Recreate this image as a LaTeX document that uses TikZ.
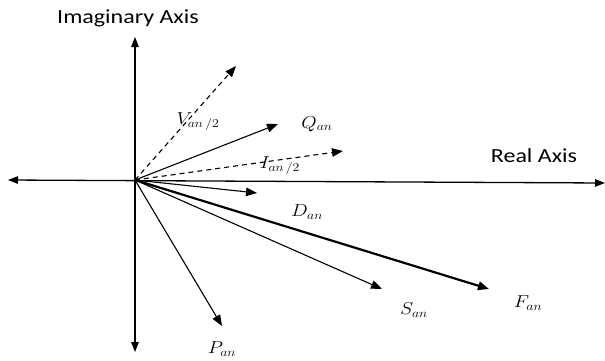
\documentclass[tikz,border=0pt]{standalone}
\usepackage{fontspec}
\usepackage{graphicx}
\setmainfont{Carlito}
\usetikzlibrary{arrows.meta}
\tikzset{
  vec/.style={line width=1.1pt,-{Triangle[length=11pt,width=8.5pt]}},
  axis/.style={line width=1.3pt,{Triangle[length=10pt,width=7.5pt]}-{Triangle[length=10pt,width=7.5pt]}},
  dvec/.style={vec,dash pattern=on 5pt off 4pt},
  axlbl/.style={inner sep=0pt,font=\fontsize{20}{22}\selectfont},
  mlbl/.style={inner sep=0pt,font=\fontsize{18}{20}\selectfont}
}
\begin{document}
\begin{tikzpicture}[x=1pt,y=-1pt]
\useasboundingbox (0,0) rectangle (605,360);
\coordinate (O) at (135,180);
\coordinate (top) at (135,37);
\coordinate (bot) at (135,352);
\coordinate (left) at (8,180);
\coordinate (right) at (605,183);
\coordinate (V) at (236,66);
\coordinate (Q) at (278,124);
\coordinate (I) at (343,151);
\coordinate (D) at (257,193);
\coordinate (F) at (489,289);
\coordinate (S) at (382,289);
\coordinate (P) at (222,326);
\draw[axis] (top) -- (bot);
\draw[axis] (left) -- (right);
\draw[dvec] (O) -- (V);
\draw[vec] (O) -- (Q);
\draw[dvec] (O) -- (I);
\draw[vec] (O) -- (D);
\draw[vec,line width=2.2pt] (O) -- (F);
\draw[vec] (O) -- (S);
\draw[vec] (O) -- (P);
\node[axlbl] (imlbl) at (128,18) {\scalebox{1.2}[1]{Imaginary Axis}};
\node[axlbl] (relbl) at (534,156) {\scalebox{1.2}[1]{Real Axis}};
\node[mlbl] (Vl) at (198,122) {\scalebox{1.15}[1]{$V_{an\,/2}$}};
\node[mlbl] (Ql) at (317,124) {\scalebox{1.15}[1]{$Q_{an}$}};
\node[mlbl] (Il) at (280,166) {\scalebox{1.15}[1]{$I_{an\,/2}$}};
\node[mlbl] (Dl) at (307,212) {\scalebox{1.15}[1]{$D_{an}$}};
\node[mlbl] (Sl) at (414,310) {\scalebox{1.15}[1]{$S_{an}$}};
\node[mlbl] (Fl) at (528,303) {\scalebox{1.15}[1]{$F_{an}$}};
\node[mlbl] (Pl) at (222,349) {\scalebox{1.15}[1]{$P_{an}$}};
\end{tikzpicture}
\end{document}
